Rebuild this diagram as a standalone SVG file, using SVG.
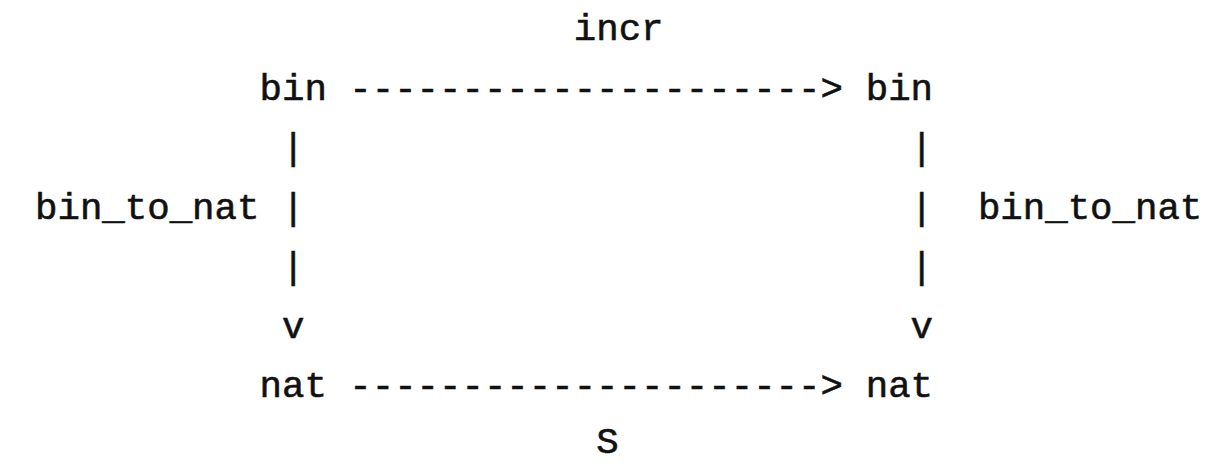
<svg xmlns="http://www.w3.org/2000/svg" width="1215" height="464" viewBox="0 0 1215 464">
  <style>
    text { font-family: "Liberation Mono", "Courier New", monospace; font-weight: normal; font-size: 37.4px; fill: #111; stroke: #111; stroke-width: 0.6px; white-space: pre; }
  </style>
  <rect width="1215" height="464" fill="#fff"/>
  <!-- connectors: ASCII arrows on a monospace grid (cell width 22.45) -->
  <g id="connectors">
    <text id="arrow-incr" x="349.3" y="99.5" xml:space="preserve">---------------------&gt;</text>
    <text id="arrow-S" x="349.3" y="397" xml:space="preserve">---------------------&gt;</text>
    <g id="arrow-left">
      <text x="282" y="159">|</text>
      <text x="282" y="218.5">|</text>
      <text x="282" y="278">|</text>
      <text x="282" y="337.5">v</text>
    </g>
    <g id="arrow-right">
      <text x="910.6" y="159">|</text>
      <text x="910.6" y="218.5">|</text>
      <text x="910.6" y="278">|</text>
      <text x="910.6" y="337.5">v</text>
    </g>
  </g>
  <g id="label-incr"><text x="573.8" y="40">incr</text></g>
  <g id="label-S"><text x="596.3" y="453">S</text></g>
  <g id="label-left"><text x="35" y="218.5">bin_to_nat</text></g>
  <g id="label-right"><text x="977.9" y="218.5">bin_to_nat</text></g>
  <g id="node-bin-src"><text x="259.5" y="99.5">bin</text></g>
  <g id="node-bin-dst"><text x="865.7" y="99.5">bin</text></g>
  <g id="node-nat-src"><text x="259.5" y="397">nat</text></g>
  <g id="node-nat-dst"><text x="865.7" y="397">nat</text></g>
</svg>
